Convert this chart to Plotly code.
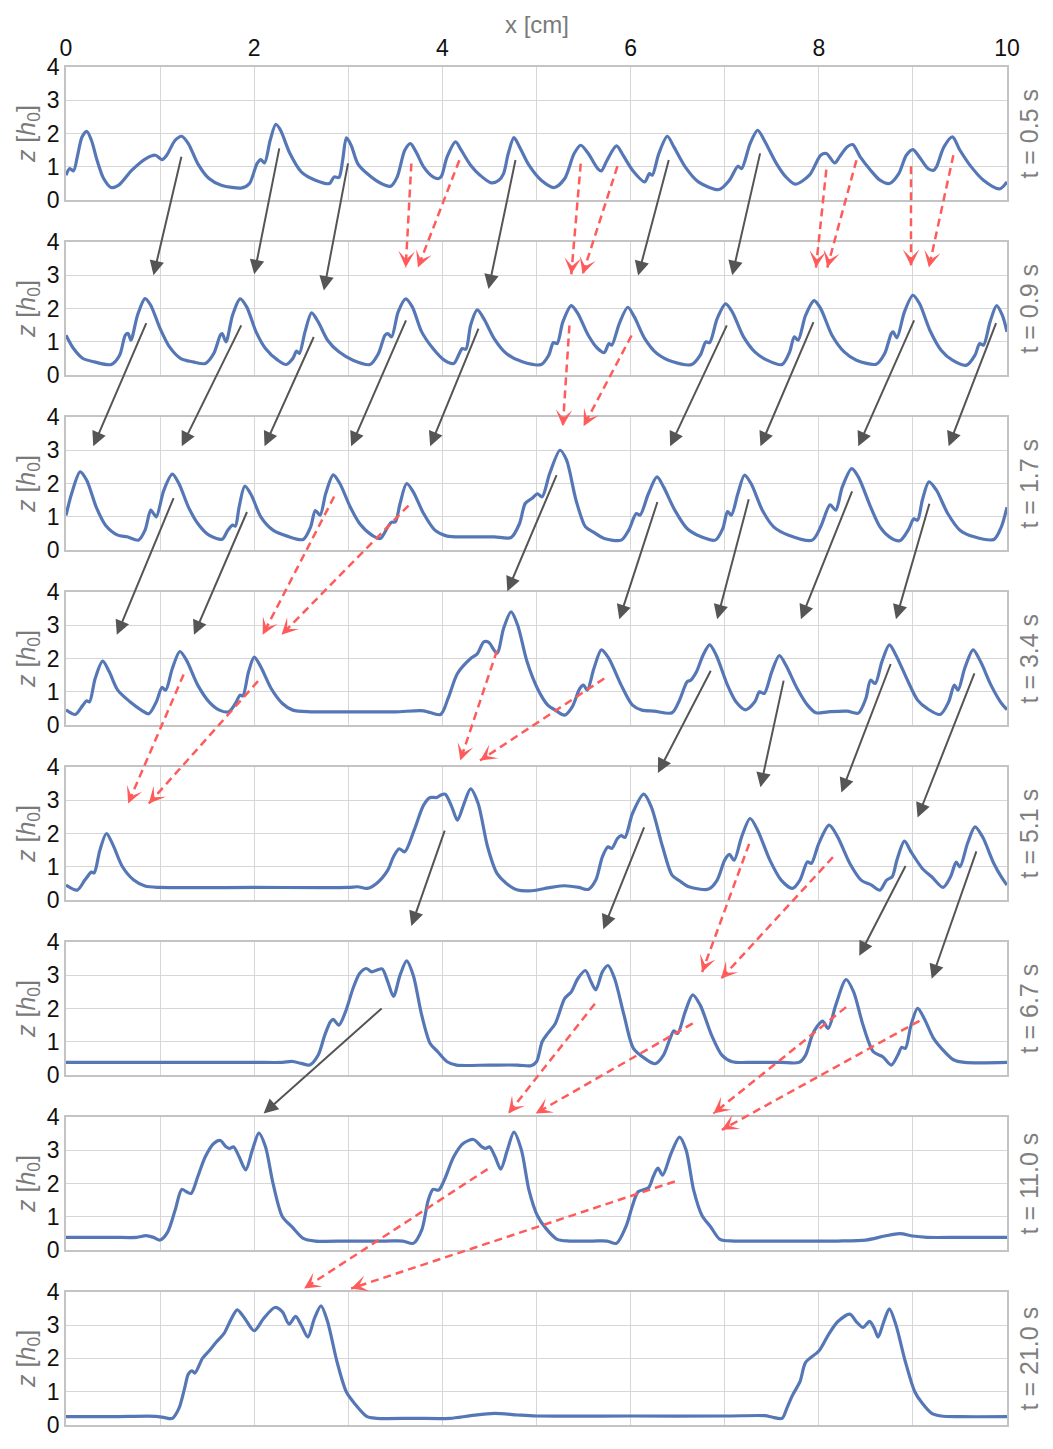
import math
import plotly.graph_objects as go

# ---------------- data (x in cm, z in h0) ----------------
TIMES = ["0.5", "0.9", "1.7", "3.4", "5.1", "6.7", "11.0", "21.0"]

X_T05 = [0.0, 0.04, 0.08, 0.12, 0.17, 0.22, 0.27, 0.33, 0.40, 0.48, 0.56, 0.70, 0.85, 0.95, 1.02, 1.07, 1.16, 1.23, 1.30, 1.40, 1.52, 1.65, 1.87, 1.95, 2.03, 2.07, 2.11, 2.17, 2.23, 2.28, 2.38, 2.50, 2.65, 2.80, 2.85, 2.90, 2.94, 2.98, 3.03, 3.10, 3.20, 3.35, 3.45, 3.52, 3.60, 3.66, 3.72, 3.80, 3.90, 3.96, 3.99, 4.05, 4.14, 4.20, 4.30, 4.40, 4.52, 4.60, 4.65, 4.70, 4.76, 4.82, 4.92, 5.05, 5.19, 5.30, 5.40, 5.47, 5.55, 5.65, 5.69, 5.75, 5.85, 5.92, 6.02, 6.15, 6.20, 6.23, 6.30, 6.39, 6.46, 6.58, 6.72, 6.94, 7.05, 7.14, 7.18, 7.27, 7.35, 7.42, 7.55, 7.65, 7.75, 7.90, 8.02, 8.08, 8.17, 8.22, 8.30, 8.36, 8.44, 8.55, 8.65, 8.75, 8.85, 8.93, 9.00, 9.08, 9.16, 9.22, 9.25, 9.33, 9.42, 9.50, 9.62, 9.75, 9.92, 10.0]
Z_T05 = [0.75, 0.95, 0.88, 1.3, 1.9, 2.07, 1.8, 1.2, 0.65, 0.38, 0.45, 0.9, 1.25, 1.35, 1.22, 1.35, 1.8, 1.92, 1.7, 1.1, 0.65, 0.45, 0.37, 0.5, 1.1, 1.22, 1.12, 1.8, 2.28, 2.1, 1.4, 0.85, 0.6, 0.5, 0.7, 0.68, 1.2, 1.87, 1.65, 1.1, 0.8, 0.5, 0.42, 0.7, 1.5, 1.7, 1.45, 1.0, 0.7, 0.65, 0.72, 1.3, 1.75, 1.5, 1.05, 0.75, 0.52, 0.6, 0.8, 1.4, 1.88, 1.6, 1.05, 0.6, 0.38, 0.65, 1.4, 1.65, 1.4, 0.95, 0.88, 1.2, 1.63, 1.35, 0.9, 0.55, 0.8, 0.75, 1.4, 1.92, 1.6, 1.0, 0.55, 0.32, 0.6, 1.02, 0.95, 1.7, 2.1, 1.8, 1.1, 0.7, 0.48, 0.75, 1.35, 1.4, 1.12, 1.3, 1.6, 1.67, 1.3, 0.9, 0.6, 0.5, 0.8, 1.35, 1.52, 1.25, 0.95, 0.9, 1.0, 1.6, 1.9, 1.5, 1.0, 0.6, 0.34, 0.55]

X_T09 = [0.00, 0.08, 0.18, 0.30, 0.48, 0.57, 0.63, 0.66, 0.69, 0.76, 0.84, 0.90, 1.00, 1.10, 1.22, 1.35, 1.48, 1.57, 1.64, 1.66, 1.70, 1.77, 1.85, 1.92, 2.02, 2.12, 2.25, 2.34, 2.41, 2.45, 2.48, 2.54, 2.61, 2.68, 2.78, 2.90, 3.05, 3.23, 3.32, 3.39, 3.42, 3.46, 3.53, 3.61, 3.68, 3.78, 3.90, 4.02, 4.12, 4.18, 4.21, 4.25, 4.30, 4.37, 4.44, 4.55, 4.68, 4.85, 5.05, 5.13, 5.18, 5.22, 5.28, 5.37, 5.44, 5.55, 5.65, 5.72, 5.77, 5.80, 5.88, 5.97, 6.04, 6.15, 6.28, 6.45, 6.65, 6.74, 6.80, 6.84, 6.92, 7.01, 7.08, 7.20, 7.32, 7.45, 7.61, 7.69, 7.74, 7.78, 7.86, 7.95, 8.02, 8.14, 8.27, 8.40, 8.61, 8.70, 8.77, 8.79, 8.83, 8.91, 9.00, 9.07, 9.18, 9.30, 9.42, 9.57, 9.66, 9.71, 9.75, 9.82, 9.89, 9.95, 10.0]
Z_T09 = [1.2, 0.8, 0.5, 0.4, 0.32, 0.6, 1.2, 1.25, 1.05, 1.8, 2.3, 2.1, 1.4, 0.85, 0.5, 0.4, 0.35, 0.65, 1.2, 1.25, 1.0, 1.8, 2.29, 2.05, 1.3, 0.8, 0.45, 0.32, 0.5, 0.72, 0.65, 1.3, 1.87, 1.6, 1.05, 0.7, 0.45, 0.32, 0.65, 1.2, 1.25, 1.15, 1.9, 2.29, 2.05, 1.3, 0.8, 0.45, 0.35, 0.65, 0.8, 0.78, 1.5, 1.96, 1.7, 1.1, 0.65, 0.4, 0.32, 0.6, 0.98, 0.95, 1.6, 2.09, 1.85, 1.2, 0.8, 0.68, 0.95, 0.9, 1.55, 2.04, 1.75, 1.1, 0.65, 0.4, 0.32, 0.6, 1.0, 0.98, 1.7, 2.14, 1.9, 1.15, 0.7, 0.45, 0.32, 0.7, 1.15, 1.05, 1.8, 2.24, 2.0, 1.2, 0.7, 0.45, 0.33, 0.65, 1.25, 1.3, 1.12, 1.9, 2.4, 2.15, 1.35, 0.75, 0.45, 0.3, 0.6, 0.95, 0.9, 1.6, 2.09, 1.8, 1.3]

X_T17 = [0.00, 0.06, 0.15, 0.22, 0.32, 0.42, 0.55, 0.65, 0.77, 0.84, 0.90, 0.93, 0.96, 1.04, 1.13, 1.20, 1.30, 1.40, 1.52, 1.66, 1.72, 1.77, 1.80, 1.84, 1.90, 1.97, 2.07, 2.20, 2.35, 2.52, 2.60, 2.65, 2.70, 2.76, 2.84, 2.91, 3.02, 3.12, 3.25, 3.34, 3.42, 3.46, 3.50, 3.55, 3.62, 3.69, 3.80, 3.92, 4.05, 4.30, 4.55, 4.73, 4.82, 4.88, 4.95, 5.01, 5.06, 5.14, 5.25, 5.32, 5.42, 5.52, 5.60, 5.72, 5.90, 5.98, 6.06, 6.10, 6.19, 6.28, 6.35, 6.47, 6.60, 6.75, 6.90, 6.98, 7.03, 7.07, 7.14, 7.21, 7.28, 7.40, 7.52, 7.68, 7.93, 8.02, 8.12, 8.18, 8.25, 8.35, 8.42, 8.55, 8.65, 8.75, 8.86, 8.95, 9.01, 9.05, 9.10, 9.17, 9.25, 9.37, 9.50, 9.65, 9.86, 9.94, 10.0]
Z_T17 = [1.04, 1.7, 2.35, 2.1, 1.3, 0.75, 0.45, 0.4, 0.3, 0.6, 1.2, 1.1, 1.0, 1.8, 2.28, 2.0, 1.3, 0.8, 0.45, 0.33, 0.6, 0.75, 0.72, 1.3, 1.92, 1.65, 1.0, 0.6, 0.42, 0.32, 0.7, 1.19, 1.05, 1.7, 2.26, 2.0, 1.3, 0.8, 0.45, 0.35, 0.7, 0.84, 0.85, 1.4, 2.0, 1.75, 1.1, 0.6, 0.42, 0.4, 0.4, 0.38, 0.8, 1.4, 1.55, 1.69, 1.6, 2.3, 3.0, 2.7, 1.5, 0.7, 0.55, 0.35, 0.3, 0.6, 1.1, 1.05, 1.7, 2.2, 1.9, 1.2, 0.65, 0.4, 0.3, 0.65, 1.16, 1.05, 1.7, 2.25, 2.0, 1.2, 0.7, 0.45, 0.3, 0.7, 1.36, 1.2, 1.9, 2.45, 2.2, 1.3, 0.7, 0.4, 0.28, 0.6, 0.94, 0.9, 1.5, 2.05, 1.8, 1.1, 0.6, 0.4, 0.32, 0.7, 1.29]

X_T34 = [0.00, 0.10, 0.18, 0.22, 0.25, 0.31, 0.39, 0.46, 0.55, 0.68, 0.80, 0.88, 0.96, 1.02, 1.06, 1.13, 1.21, 1.28, 1.40, 1.52, 1.63, 1.73, 1.80, 1.85, 1.88, 1.94, 2.00, 2.07, 2.18, 2.30, 2.41, 2.60, 3.00, 3.50, 3.80, 3.98, 4.06, 4.16, 4.30, 4.37, 4.44, 4.49, 4.58, 4.65, 4.73, 4.80, 4.90, 5.01, 5.12, 5.20, 5.30, 5.38, 5.46, 5.50, 5.54, 5.61, 5.69, 5.77, 5.90, 6.02, 6.12, 6.25, 6.44, 6.52, 6.60, 6.64, 6.70, 6.77, 6.84, 6.91, 7.03, 7.12, 7.22, 7.32, 7.37, 7.42, 7.50, 7.58, 7.65, 7.77, 7.88, 7.97, 8.10, 8.30, 8.42, 8.50, 8.55, 8.60, 8.67, 8.75, 8.82, 8.95, 9.05, 9.15, 9.29, 9.38, 9.44, 9.48, 9.55, 9.64, 9.72, 9.83, 9.93, 10.0]
Z_T34 = [0.46, 0.32, 0.6, 0.73, 0.7, 1.4, 1.92, 1.6, 1.05, 0.7, 0.45, 0.34, 0.7, 1.13, 1.05, 1.7, 2.21, 1.95, 1.2, 0.7, 0.45, 0.4, 0.65, 0.9, 0.88, 1.6, 2.04, 1.75, 1.1, 0.65, 0.45, 0.4, 0.4, 0.4, 0.43, 0.32, 0.8, 1.55, 2.0, 2.14, 2.5, 2.49, 2.16, 2.9, 3.4, 3.0, 1.9, 1.1, 0.6, 0.45, 0.3, 0.55, 1.1, 1.2, 1.05, 1.7, 2.26, 2.0, 1.2, 0.6, 0.45, 0.42, 0.37, 0.75, 1.3, 1.35, 1.6, 2.1, 2.41, 2.1, 1.2, 0.7, 0.46, 0.7, 1.0, 0.95, 1.6, 2.09, 1.8, 1.1, 0.6, 0.37, 0.4, 0.42, 0.36, 0.8, 1.35, 1.25, 1.9, 2.41, 2.1, 1.3, 0.75, 0.5, 0.32, 0.7, 1.2, 1.05, 1.7, 2.26, 1.9, 1.2, 0.7, 0.46]

X_T51 = [0.00, 0.12, 0.20, 0.27, 0.30, 0.36, 0.43, 0.50, 0.60, 0.72, 0.84, 1.00, 2.00, 3.00, 3.10, 3.20, 3.30, 3.42, 3.48, 3.54, 3.60, 3.70, 3.80, 3.87, 3.94, 3.98, 4.03, 4.10, 4.16, 4.23, 4.30, 4.38, 4.48, 4.58, 4.68, 4.80, 4.95, 5.15, 5.30, 5.45, 5.55, 5.63, 5.70, 5.76, 5.80, 5.86, 5.90, 5.94, 6.02, 6.14, 6.22, 6.34, 6.44, 6.52, 6.62, 6.83, 6.92, 7.00, 7.05, 7.10, 7.18, 7.27, 7.35, 7.48, 7.60, 7.72, 7.80, 7.88, 7.92, 8.00, 8.11, 8.20, 8.33, 8.45, 8.56, 8.65, 8.72, 8.78, 8.83, 8.91, 8.98, 9.10, 9.20, 9.32, 9.40, 9.46, 9.50, 9.58, 9.66, 9.74, 9.86, 9.95, 10.0]
Z_T51 = [0.45, 0.3, 0.6, 0.84, 0.82, 1.5, 2.0, 1.65, 1.0, 0.6, 0.42, 0.38, 0.38, 0.38, 0.4, 0.35, 0.5, 0.9, 1.3, 1.54, 1.45, 2.1, 2.85, 3.08, 3.08, 3.15, 3.18, 2.8, 2.4, 2.9, 3.34, 2.9, 1.6, 0.8, 0.5, 0.3, 0.28, 0.38, 0.43, 0.38, 0.32, 0.6, 1.3, 1.6, 1.55, 1.85, 1.94, 1.88, 2.6, 3.18, 2.8, 1.6, 0.75, 0.58, 0.4, 0.33, 0.6, 1.2, 1.37, 1.2, 1.9, 2.45, 2.1, 1.2, 0.6, 0.35, 0.6, 1.15, 1.1, 1.7, 2.25, 1.9, 1.1, 0.6, 0.45, 0.3, 0.6, 0.7, 1.2, 1.77, 1.45, 0.95, 0.7, 0.38, 0.7, 1.14, 1.0, 1.7, 2.2, 1.9, 1.1, 0.65, 0.45]

X_T67 = [0.00, 1.00, 2.00, 2.30, 2.40, 2.50, 2.59, 2.68, 2.75, 2.81, 2.84, 2.90, 2.97, 3.05, 3.12, 3.19, 3.25, 3.30, 3.36, 3.42, 3.48, 3.55, 3.62, 3.69, 3.78, 3.87, 3.95, 4.05, 4.15, 4.50, 4.80, 4.94, 5.00, 5.06, 5.12, 5.20, 5.30, 5.37, 5.44, 5.52, 5.58, 5.63, 5.70, 5.76, 5.83, 5.93, 6.03, 6.15, 6.26, 6.35, 6.42, 6.46, 6.50, 6.58, 6.66, 6.74, 6.86, 6.97, 7.08, 7.30, 7.60, 7.79, 7.86, 7.93, 7.98, 8.04, 8.10, 8.18, 8.29, 8.37, 8.47, 8.58, 8.68, 8.77, 8.84, 8.88, 8.92, 8.98, 9.05, 9.12, 9.22, 9.32, 9.43, 9.55, 10.0]
Z_T67 = [0.38, 0.38, 0.38, 0.38, 0.41, 0.35, 0.3, 0.6, 1.2, 1.6, 1.67, 1.5, 1.9, 2.6, 3.05, 3.2, 3.1, 3.15, 3.19, 2.8, 2.36, 3.0, 3.43, 3.0, 1.8, 0.95, 0.7, 0.4, 0.3, 0.3, 0.3, 0.28, 0.4, 1.0, 1.25, 1.55, 2.3, 2.5, 2.9, 3.14, 2.8, 2.56, 3.1, 3.29, 2.9, 1.8, 0.8, 0.5, 0.34, 0.6, 1.1, 1.33, 1.25, 1.9, 2.41, 2.1, 1.2, 0.6, 0.4, 0.38, 0.38, 0.38, 0.6, 1.2, 1.45, 1.62, 1.4, 2.1, 2.87, 2.5, 1.5, 0.7, 0.55, 0.3, 0.6, 0.83, 0.8, 1.5, 2.0, 1.7, 1.1, 0.75, 0.46, 0.38, 0.38]

X_T110 = [0.00, 0.50, 0.75, 0.85, 0.93, 1.00, 1.08, 1.16, 1.23, 1.28, 1.33, 1.40, 1.48, 1.57, 1.64, 1.70, 1.74, 1.78, 1.84, 1.91, 1.98, 2.05, 2.12, 2.20, 2.30, 2.40, 2.52, 2.65, 3.00, 3.40, 3.58, 3.69, 3.78, 3.85, 3.90, 3.96, 4.02, 4.12, 4.22, 4.33, 4.42, 4.46, 4.50, 4.56, 4.62, 4.69, 4.76, 4.84, 4.92, 5.01, 5.10, 5.22, 5.35, 5.60, 5.75, 5.85, 5.95, 6.02, 6.08, 6.19, 6.24, 6.29, 6.34, 6.43, 6.52, 6.59, 6.67, 6.76, 6.85, 6.95, 7.10, 7.50, 8.20, 8.50, 8.70, 8.86, 9.00, 9.15, 9.50, 10.0]
Z_T110 = [0.38, 0.38, 0.38, 0.43, 0.38, 0.3, 0.54, 1.2, 1.82, 1.75, 1.7, 2.2, 2.8, 3.2, 3.29, 3.1, 3.05, 3.1, 2.8, 2.41, 3.0, 3.51, 3.1, 2.0, 1.0, 0.7, 0.35, 0.27, 0.27, 0.27, 0.27, 0.2, 0.6, 1.5, 1.82, 1.8, 2.1, 2.8, 3.2, 3.32, 3.1, 3.05, 3.1, 2.8, 2.43, 3.0, 3.54, 3.0, 1.8, 1.03, 0.65, 0.32, 0.27, 0.27, 0.27, 0.2, 0.7, 1.33, 1.75, 1.87, 2.2, 2.46, 2.25, 2.9, 3.39, 3.0, 1.8, 1.03, 0.7, 0.32, 0.27, 0.27, 0.27, 0.3, 0.42, 0.49, 0.42, 0.38, 0.38, 0.38]

X_T210 = [0.00, 0.50, 0.95, 1.05, 1.13, 1.20, 1.26, 1.30, 1.34, 1.37, 1.45, 1.52, 1.60, 1.68, 1.75, 1.82, 1.90, 2.00, 2.10, 2.22, 2.30, 2.37, 2.44, 2.50, 2.57, 2.64, 2.71, 2.78, 2.88, 2.98, 3.08, 3.20, 3.30, 3.70, 4.08, 4.30, 4.55, 4.80, 5.00, 6.00, 7.00, 7.43, 7.50, 7.61, 7.66, 7.72, 7.80, 7.86, 8.00, 8.10, 8.20, 8.33, 8.40, 8.47, 8.54, 8.59, 8.63, 8.69, 8.75, 8.82, 8.92, 9.02, 9.10, 9.20, 9.30, 9.50, 10.0]
Z_T210 = [0.25, 0.25, 0.26, 0.22, 0.2, 0.5, 1.1, 1.53, 1.63, 1.56, 2.0, 2.22, 2.5, 2.75, 3.15, 3.46, 3.2, 2.83, 3.2, 3.53, 3.4, 3.03, 3.26, 3.0, 2.64, 3.2, 3.58, 3.1, 1.9, 0.99, 0.6, 0.25, 0.2, 0.2, 0.2, 0.28, 0.35, 0.3, 0.27, 0.27, 0.27, 0.28, 0.24, 0.2, 0.5, 0.89, 1.3, 1.88, 2.22, 2.7, 3.1, 3.33, 3.1, 2.93, 3.11, 2.9, 2.64, 3.1, 3.49, 3.0, 1.9, 1.0, 0.65, 0.35, 0.27, 0.25, 0.25]

SERIES_X = [X_T05, X_T09, X_T17, X_T34, X_T51, X_T67, X_T110, X_T210]
SERIES_Z = [Z_T05, Z_T09, Z_T17, Z_T34, Z_T51, Z_T67, Z_T110, Z_T210]

# arrows: (panel of tail, x tail, z tail, x head, z head)  -- head lies in next panel
GRAY_ARROWS = [
    (0, 1.23, 1.35, 0.93, 3.0), (0, 2.27, 1.6, 2.0, 3.03), (0, 3.0, 1.15, 2.74, 2.54),
    (0, 4.78, 1.25, 4.49, 2.59), (0, 6.41, 1.25, 6.08, 2.99), (0, 7.38, 1.45, 7.08, 3.0),
    (1, 0.86, 1.61, 0.29, 3.12), (1, 1.87, 1.54, 1.23, 3.12), (1, 2.64, 1.19, 2.11, 3.12),
    (1, 3.62, 1.69, 3.03, 3.12), (1, 4.39, 1.44, 3.87, 3.12), (1, 7.03, 1.54, 6.42, 3.12),
    (1, 7.95, 1.64, 7.38, 3.12), (1, 9.02, 1.69, 8.42, 3.12), (1, 9.89, 1.61, 9.38, 3.12),
    (2, 1.15, 1.61, 0.54, 2.71), (2, 1.93, 1.19, 1.36, 2.71), (2, 5.22, 2.3, 4.69, 4.02),
    (2, 6.29, 1.49, 5.88, 3.18), (2, 7.26, 1.57, 6.92, 3.18), (2, 8.36, 1.81, 7.81, 3.18),
    (2, 9.18, 1.44, 8.82, 3.18),
    (3, 6.86, 1.68, 6.29, 3.82), (3, 7.63, 1.38, 7.38, 3.39), (3, 8.77, 1.88, 8.24, 3.23),
    (3, 9.66, 1.6, 9.05, 2.48),
    (4, 4.03, 2.13, 3.67, 4.48), (4, 6.15, 2.23, 5.71, 4.38), (4, 8.93, 1.07, 8.43, 3.58),
    (4, 9.68, 1.51, 9.2, 2.89),
    (5, 3.37, 2.04, 2.1, 4.1),
]
RED_ARROWS = [
    (0, 3.67, 1.1, 3.61, 3.23), (0, 4.18, 1.2, 3.74, 3.23), (0, 5.47, 1.1, 5.37, 3.03),
    (0, 5.86, 1.02, 5.49, 3.03), (0, 8.08, 0.92, 7.97, 3.23), (0, 8.4, 1.2, 8.09, 3.23),
    (0, 8.98, 1.02, 8.98, 3.28), (0, 9.43, 1.35, 9.17, 3.23),
    (1, 5.35, 1.49, 5.28, 3.72), (1, 6.01, 1.19, 5.5, 3.72),
    (2, 2.85, 1.61, 2.09, 2.71), (2, 3.64, 1.34, 2.29, 2.71),
    (3, 1.25, 1.52, 0.66, 2.9), (3, 2.04, 1.32, 0.88, 2.9), (3, 4.58, 2.24, 4.19, 4.19),
    (3, 5.72, 1.4, 4.4, 4.19),
    (4, 7.26, 1.69, 6.76, 3.09), (4, 8.15, 1.29, 6.96, 2.89),
    (5, 5.62, 2.14, 4.7, 4.1), (5, 6.66, 1.55, 4.99, 4.1), (5, 8.29, 2.04, 6.88, 4.1),
    (5, 9.07, 1.63, 6.97, 3.61),
    (6, 4.48, 2.43, 2.53, 4.1), (6, 6.47, 2.06, 3.03, 4.1),
]

# ---------------- layout geometry ----------------
W, H = 1037, 1433
ML, MT, MR, MB = 57.5, 59, 37.5, 2.5
PLOT_W = W - ML - MR
PLOT_H = H - MT - MB
PAN_H = 134.5
STEP = (PLOT_H - PAN_H) / 7
N = len(TIMES)
DOMS = []
for i in range(N):
    top = 1 - i * STEP / PLOT_H
    DOMS.append((top - PAN_H / PLOT_H, top))

BLUE = "#5677b6"
GRAY = "#555555"
RED = "#ff5b5b"
GRID = "#d6d6d6"
FRAME = "#c4c4c4"
TICKFONT = dict(family="Liberation Sans Narrow, Arial Narrow, Liberation Sans, sans-serif", size=23, color="#111111")
LABELFONT = dict(family="Liberation Sans, Arial, sans-serif", size=25, color="#7a7a7a")


def u_of(panel, z):
    """convert (panel, z) into 'y domain' units of the first panel"""
    b, t = DOMS[panel]
    p = b + z / 4.0 * (t - b)
    b0, t0 = DOMS[0]
    return (p - b0) / (t0 - b0)


fig = go.Figure()
for i in range(N):
    sfx = "" if i == 0 else str(i + 1)
    fig.add_trace(go.Scatter(
        x=SERIES_X[i], y=SERIES_Z[i], mode="lines",
        xaxis="x" + sfx, yaxis="y" + sfx,
        line=dict(color=BLUE, width=3.2, shape="spline", smoothing=0.8),
        hoverinfo="skip", showlegend=False,
    ))
    xa = dict(domain=[0, 1], range=[0, 10], anchor="y" + sfx,
              tickvals=list(range(11)),
              ticktext=[str(v) if v % 2 == 0 else "" for v in range(11)],
              showgrid=True, gridcolor=GRID, gridwidth=1, zeroline=False,
              showline=True, mirror=True, linecolor=FRAME, linewidth=1.5,
              ticks="", tickfont=TICKFONT, fixedrange=True)
    if i == 0:
        xa.update(side="top", showticklabels=True)
    else:
        xa.update(showticklabels=False, matches="x")
    ya = dict(domain=list(DOMS[i]), range=[0, 4], anchor="x" + sfx,
              tickvals=[0, 1, 2, 3, 4], showgrid=True, gridcolor=GRID, gridwidth=1,
              zeroline=False, showline=True, mirror=True, linecolor=FRAME, linewidth=1.5,
              ticks="", tickfont=TICKFONT, fixedrange=True,
              title=dict(text="<i>z</i> [<i>h</i><sub>0</sub>]", font=LABELFONT, standoff=4))
    fig.layout["xaxis" + sfx] = xa
    fig.layout["yaxis" + sfx] = ya

annotations = []
shapes = []
for i, t in enumerate(TIMES):
    sfx = "" if i == 0 else str(i + 1)
    annotations.append(dict(
        text=f"t = {t} s", xref="paper", x=1, xanchor="center", xshift=22,
        yref=f"y{sfx} domain", y=0.5, yanchor="middle", textangle=-90,
        showarrow=False, font=dict(family="Liberation Sans, Arial, sans-serif", size=25, color="#7f7f7f"),
    ))

annotations.append(dict(
    text="x [cm]", xref="paper", x=0.5, yref="paper", y=1, yanchor="middle", yshift=43,
    showarrow=False, font=dict(family="Liberation Sans, Arial, sans-serif", size=24, color="#7a7a7a"),
))

for (p, tx, tz, hx, hz) in GRAY_ARROWS:
    annotations.append(dict(
        text="", showarrow=True,
        xref="x domain", yref="y domain", axref="x domain", ayref="y domain",
        x=hx / 10, y=u_of(p + 1, hz), ax=tx / 10, ay=u_of(p, tz),
        arrowhead=2, arrowsize=1.45, arrowwidth=2, arrowcolor=GRAY,
    ))

for (p, tx, tz, hx, hz) in RED_ARROWS:
    x0, y0 = tx / 10, u_of(p, tz)
    x1, y1 = hx / 10, u_of(p + 1, hz)
    shapes.append(dict(type="line", xref="x domain", yref="y domain",
                       x0=x0, y0=y0, x1=x1, y1=y1,
                       line=dict(color=RED, width=2.5, dash="8px,5px")))
    dpx = (x1 - x0) * PLOT_W
    dpy = (y1 - y0) * PAN_H
    L = math.hypot(dpx, dpy)
    s = 10.0 / L
    annotations.append(dict(
        text="", showarrow=True,
        xref="x domain", yref="y domain", axref="x domain", ayref="y domain",
        x=x1, y=y1, ax=x1 - (x1 - x0) * s, ay=y1 - (y1 - y0) * s,
        arrowhead=3, arrowsize=1.25, arrowwidth=2.2, arrowcolor=RED,
    ))

fig.update_layout(
    width=W, height=H,
    margin=dict(l=ML, r=MR, t=MT, b=MB, pad=0),
    paper_bgcolor="white", plot_bgcolor="white",
    showlegend=False,
    annotations=annotations, shapes=shapes,
)

fig.write_html("out.html")
